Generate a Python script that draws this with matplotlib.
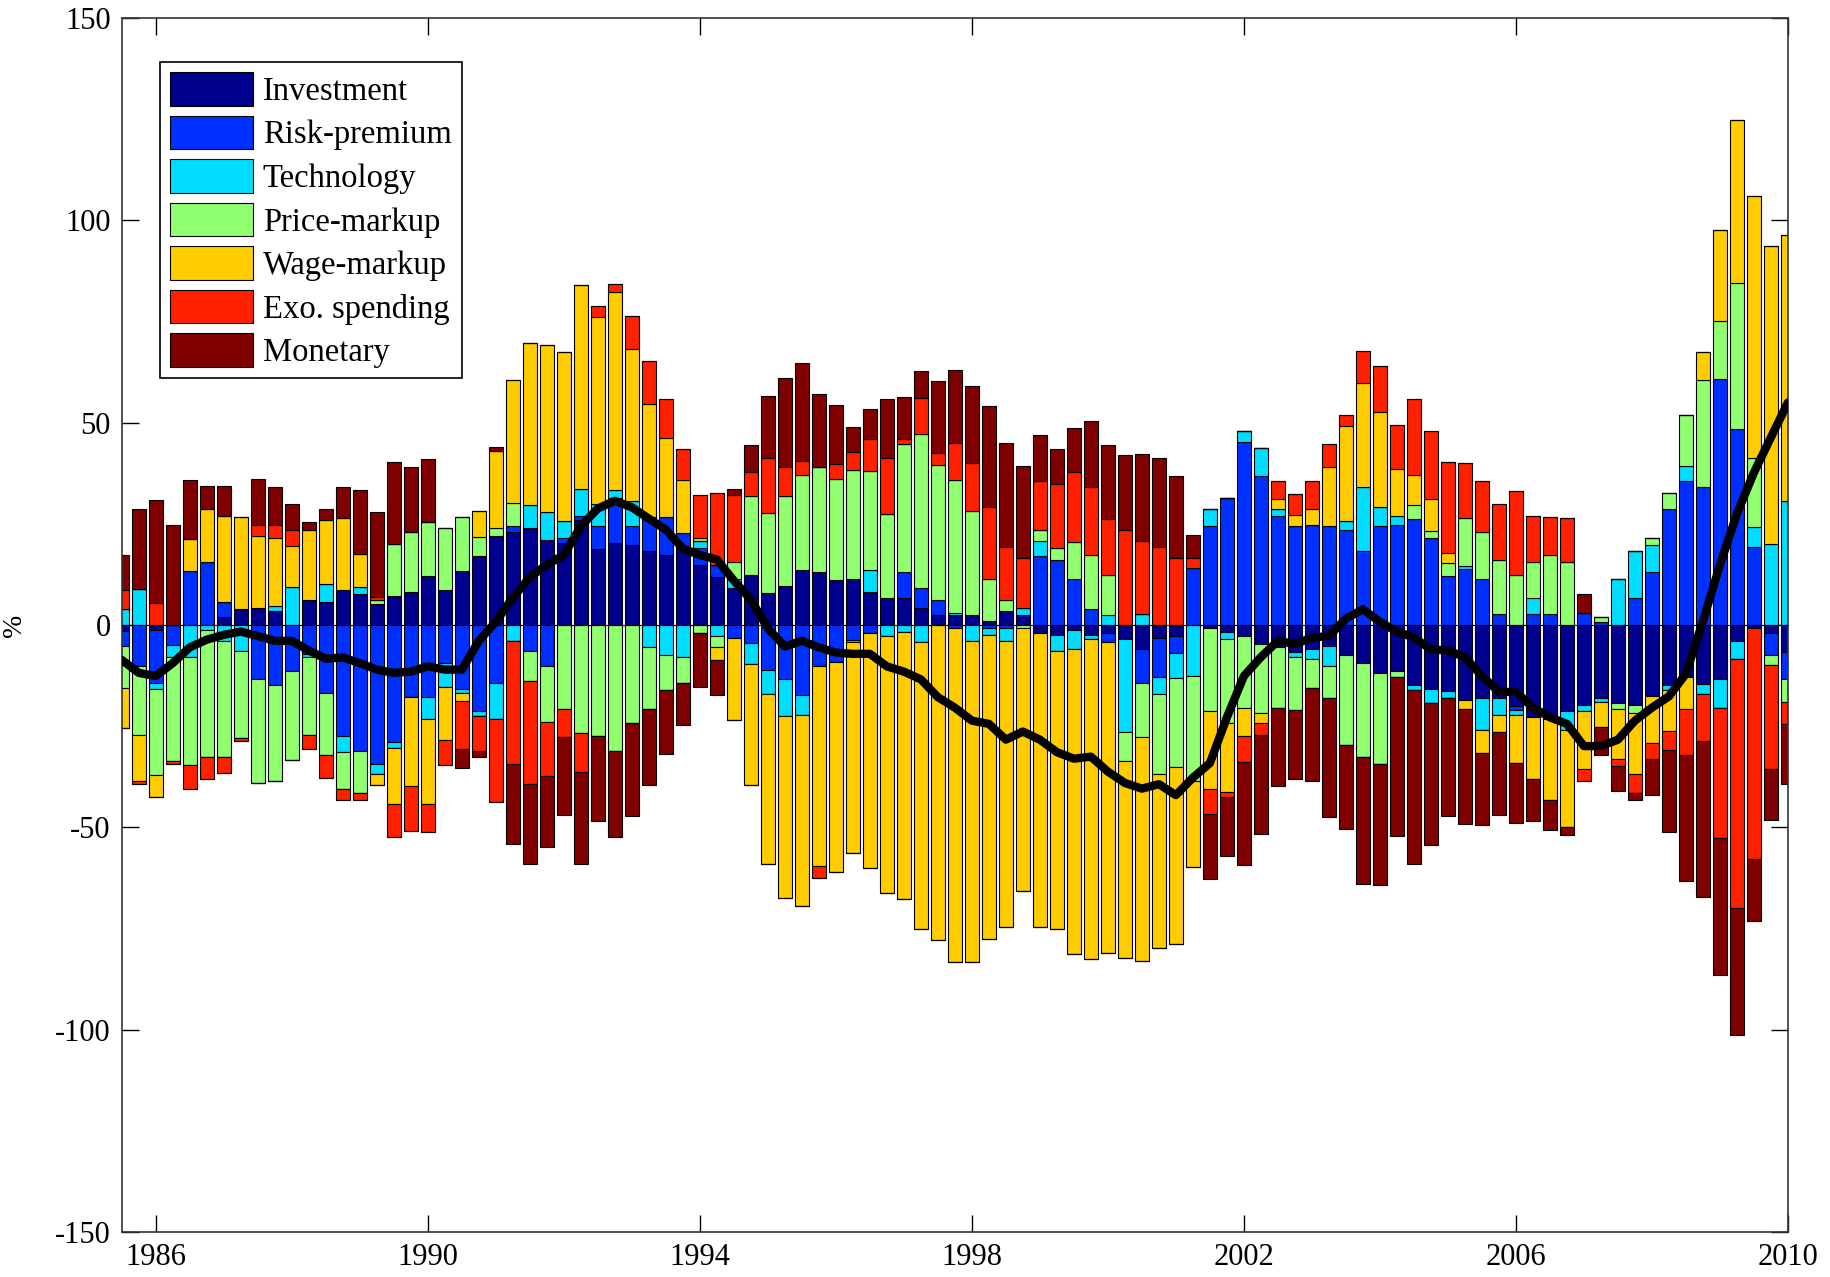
import numpy as np
import matplotlib
matplotlib.use("Agg")
import matplotlib.pyplot as plt

# Quarterly dates, 1985Q3 .. 2010Q1
dates = np.arange(1985.5, 2010.01, 0.25)

shock_names = ["Investment", "Risk-premium", "Technology", "Price-markup",
               "Wage-markup", "Exo. spending", "Monetary"]
shock_colors = ["#00008F", "#0030FF", "#00DDFF", "#90FF70",
                "#FFCC00", "#FF2000", "#800000"]

investment = [
    -1.5, 0, -1.1, 0, 0, 0, 1.9, 3.9, 4.2, 3.6, 0, 6.3, 5.8, 8.6, 7.7, 5.2,
    7.1, 8.2, 12.1, 8.6, 13.4, 17.0, 22.0, 23.1, 23.9, 20.9, 20.4, 25.9, 18.9, 20.4,
    19.7, 18.4, 17.3, 18.9, 14.9, 11.8, 9.1, 12.3, 7.9, 9.7, 13.5, 13.2, 11.2, 11.3,
    8.2, 6.6, 6.6, 4.2, 2.4, 2.4, 2.4, 1.1, 3.5, 2.4, -2.0, -2.4, -1.1, -2.4, -2.0,
    -3.5, -6.0, -3.1, -2.8, 0, -0.8, -1.6, -2.8, -4.7, -5.5, -6.6, -6.0, -5.2, -7.5,
    -9.4, -11.8, -11.3, -14.9, -15.7, -16.2, -18.6, -18.1, -18.1, -20.1, -22.8, -22.3,
    -21.2, -19.7, -18.1, -19.2, -19.7, -17.6, -14.9, -12.9, -14.5, -13.4, -3.9, -0.8,
    -2.0, -6.6,
]
risk_premium = [
    -3.6, -10.2, -13.1, -4.9, 13.4, 15.6, 3.9, 0, -13.4, -14.9, -11.3, -7.1, -16.8,
    -27.5, -31.1, -34.3, -28.8, -17.8, -17.8, -9.4, -15.7, -21.2, -14.2, 1.3, -6.3,
    -10.2, 1.1, 1.1, 5.5, 11.0, 4.7, 8.2, 9.3, 3.8, 4.2, 3.1, -3.1, -4.4, -11.0, -13.4,
    -17.3, -10.2, -9.1, -3.6, -2.0, 0, 6.6, 5.0, 3.9, -0.8, 0, -0.8, -0.8, 0, 17.0,
    16.0, 11.5, 3.9, -2.2, 0, -8.2, -9.7, -4.2, 14.2, 24.4, 31.4, 45.3, 36.9, 27.0,
    24.4, 24.8, 24.4, 23.6, 18.4, 24.4, 24.8, 26.3, 21.5, 12.1, 13.8, 11.5, 2.8, -0.8,
    2.7, 2.8, 0, 3.1, 0.8, 0, 6.6, 13.1, 28.6, 35.7, 34.1, 60.8, 48.4, 19.3, -5.3, -6.8,
]
technology = [
    3.9, 9.0, -1.6, -3.0, -7.9, -1.1, -3.9, -6.3, 0, 1.1, 9.4, -0.8, 4.4, -3.9, 1.6,
    -2.4, -1.6, 0, -5.5, -5.8, -1.1, -1.3, -9.1, -3.9, 5.7, 7.1, 4.1, 6.6, 5.5, 1.9,
    6.3, -5.5, -7.5, -7.9, 1.6, -2.8, 2.2, -5.3, -6.0, -9.1, -5.0, 0, 0, -0.6, 5.5,
    -2.8, -1.7, -4.2, 0, 0.5, -3.9, -1.6, -3.1, 1.9, 3.8, -3.9, -4.7, -1.1, 2.4, -23.0,
    2.7, -4.1, -6.0, -12.6, 4.2, -1.9, 2.7, 6.8, 1.7, -1.3, -2.4, -5.0, 2.0, 15.7, 4.7,
    2.2, -1.1, -3.5, -1.9, 0.8, -7.9, -4.2, -1.4, 3.9, -0.9, -4.7, -1.6, -0.8, 11.5,
    11.8, 6.6, -1.1, 3.6, -2.4, -7.1, -4.4, 5.0, 20.0, 30.7,
]
price_markup = [
    -10.5, -17.0, -21.2, -25.6, -26.7, -31.6, -28.8, -21.7, -25.6, -23.6, -22.0, -19.3,
    -15.4, -9.1, -10.5, 0.9, 12.9, 14.9, 13.4, 15.3, 13.4, 4.7, 1.9, 5.8, -7.5, -13.8,
    -20.8, -26.7, -27.5, -31.0, -24.1, -15.3, -8.6, -6.3, -1.9, -2.7, 4.4, 19.5, 19.7,
    22.2, 23.6, 25.8, 25.0, 27.0, 24.4, 20.9, 31.6, 37.9, 33.3, 32.9, 25.9, 10.4, 2.8,
    -0.8, 2.8, 3.1, 9.0, 13.4, 9.9, -7.1, -13.4, -20.0, -22.0, -25.9, -20.4, -20.6,
    -17.6, -17.0, -14.9, -13.1, -7.1, -7.9, -22.0, -23.3, -22.5, -1.6, 3.3, 1.7, 3.3,
    11.9, 11.6, 13.4, 12.3, 9.0, 14.5, 15.7, 0, 1.1, -1.6, -1.9, 1.9, 4.1, 12.6, 26.4,
    14.3, 36.0, 17.0, -2.5, -5.5,
]
wage_markup = [
    -9.7, -11.3, -5.5, 0, 7.9, 13.2, 21.1, 22.8, 17.9, 16.8, 10.2, 17.3, 15.7, 17.9,
    8.2, -2.7, -13.7, -21.9, -20.8, -13.1, -2.0, 6.6, 19.0, 30.3, 40.1, 41.2, 41.8, 50.5,
    46.2, 48.9, 37.6, 28.1, 19.7, 13.1, 0.8, -3.1, -20.4, -29.9, -42.0, -44.8, -47.0,
    -49.2, -51.9, -52.0, -58.0, -63.5, -65.9, -70.8, -77.8, -82.5, -79.4, -75.2, -70.8,
    -64.9, -72.6, -68.7, -75.5, -79.1, -76.7, -48.6, -55.3, -42.8, -43.7, -21.2, -19.3,
    -17.1, -7.1, -2.4, 2.4, 2.7, 3.8, 14.6, 23.7, 25.6, 23.6, 11.5, 7.4, 7.9, 2.4, -2.2,
    -5.5, -4.1, -11.8, -15.3, -20.0, -24.1, -14.2, -6.3, -12.3, -15.1, -11.5, -10.2, -7.9,
    6.9, 22.6, 40.3, 64.6, 73.6, 65.7,
]
exo_spending = [
    4.7, -0.8, 5.5, -0.8, -5.8, -5.3, -3.8, -0.6, 2.7, 3.3, 3.9, -3.5, -5.5, -2.7, -1.6,
    0.9, -8.3, -11.2, -7.1, -6.3, -11.8, -8.6, -20.4, -30.3, -25.5, -13.4, -6.8, -9.7,
    2.8, 2.0, 8.0, 10.5, 9.6, 7.7, 10.7, 17.8, 16.5, 6.0, 13.7, 7.1, 3.5, -3.1, 3.5,
    4.4, 7.9, 13.7, 1.1, 9.0, 2.8, 9.1, 11.8, 17.6, 13.1, 12.3, 12.1, 15.7, 17.3, 16.8,
    14.0, 23.6, 18.1, 19.3, 16.5, 2.4, -6.1, -1.3, -6.3, -3.0, 4.6, 5.2, 7.1, 5.7, 2.7,
    7.9, 11.3, 11.0, 18.9, 16.8, 22.6, 13.5, 12.4, 13.7, 20.8, 11.3, 9.3, 10.8, -3.1, 0,
    -1.6, -4.7, -3.9, -4.7, -11.2, -11.8, -32.2, -61.6, -56.9, -25.8, -5.5,
]
monetary = [
    8.6, 19.7, 25.3, 24.8, 14.5, 5.5, 7.4, 0, 11.3, 9.4, 6.3, 1.9, 2.8, 7.7, 15.9, 20.9,
    20.4, 16.0, 15.6, 0, -4.7, -1.4, 1.1, -20.0, -19.7, -17.3, -19.3, -22.5, -20.8,
    -21.4, -23.1, -18.6, -15.7, -10.5, -13.5, -8.6, 1.3, 6.6, 15.3, 22.0, 24.2, 18.1,
    14.6, 6.3, 7.4, 14.6, 10.5, 6.6, 17.8, 18.2, 18.9, 25.0, 25.6, 22.6, 11.2, 8.8, 11.0,
    16.2, 18.1, 18.4, 21.4, 21.9, 20.3, 5.7, -16.2, -14.5, -25.5, -24.4, -19.3, -17.1,
    -23.1, -29.4, -20.8, -31.3, -29.9, -39.3, -42.9, -35.1, -29.1, -28.3, -17.8, -20.4,
    -14.9, -10.4, -7.4, -1.9, 4.7, -6.8, -6.3, -1.9, -9.0, -20.1, -31.3, -38.5, -33.8,
    -31.4, -15.4, -12.6, -14.9,
]
# observed series (black line)
observed = [
    -8.6, -11.8, -12.6, -9.4, -5.5, -3.6, -2.4, -1.6, -2.7, -3.9, -3.9, -6.3, -8.3, -8.0,
    -9.4, -11.0, -11.8, -11.5, -10.2, -11.0, -11.0, -3.9, 0.8, 6.8, 11.8, 14.9, 17.3,
    24.4, 28.8, 30.7, 29.1, 26.3, 23.6, 18.9, 17.3, 16.2, 11.0, 6.3, -0.8, -5.3, -3.9,
    -5.5, -6.8, -7.1, -7.1, -10.2, -11.5, -13.4, -17.8, -20.4, -23.6, -24.4, -28.3,
    -26.3, -28.3, -31.4, -33.0, -32.5, -36.2, -39.0, -40.4, -39.3, -42.0, -37.7, -34.1,
    -22.8, -12.6, -7.9, -3.9, -4.7, -3.1, -2.7, 1.6, 3.9, 0.8, -1.6, -3.1, -6.0, -6.3,
    -7.9, -12.6, -16.5, -16.5, -20.4, -22.8, -24.4, -29.9, -29.9, -28.3, -23.6, -20.4,
    -17.6, -12.0, 1.0, 14.9, 27.5, 37.7, 46.4, 55.0,
]

x_ticks = [1986, 1990, 1994, 1998, 2002, 2006, 2010]
y_ticks = [-150, -100, -50, 0, 50, 100, 150]

plt.rcParams["font.family"] = ["Liberation Serif", "DejaVu Serif"]
plt.rcParams["font.size"] = 22
plt.rcParams["axes.unicode_minus"] = False

fig = plt.figure(figsize=(18.31, 12.77), dpi=100)
ax = fig.add_axes([0.0665, 0.035, 0.91, 0.951])

series = [investment, risk_premium, technology, price_markup,
          wage_markup, exo_spending, monetary]
pos_base = np.zeros(len(dates))
neg_base = np.zeros(len(dates))
handles = []
for name, vals, col in zip(shock_names, series, shock_colors):
    v = np.asarray(vals, dtype=float)
    pos = np.where(v > 0, v, 0.0)
    neg = np.where(v < 0, v, 0.0)
    h = ax.bar(dates, pos, width=0.2, bottom=pos_base, color=col,
               edgecolor="black", linewidth=0.8, label=name, zorder=2)
    ax.bar(dates, neg, width=0.2, bottom=neg_base, color=col,
           edgecolor="black", linewidth=0.8, zorder=2)
    pos_base += pos
    neg_base += neg
    handles.append(h)

ax.axhline(0, color="black", linewidth=0.8, zorder=3)
ax.plot(dates, observed, color="black", linewidth=6, zorder=4,
        solid_capstyle="round", solid_joinstyle="round")

ax.set_xlim(1985.5, 2010)
ax.set_ylim(-150, 150)
ax.set_xticks(x_ticks)
ax.set_yticks(y_ticks)
ax.tick_params(direction="in", length=12, width=1, top=True, right=True,
               labelsize=22, pad=8)
for s in ax.spines.values():
    s.set_linewidth(1.2)
    s.set_color("#333333")
ax.set_ylabel("%", fontsize=20)
ax.yaxis.set_label_coords(-0.057, 0.5)

leg = ax.legend(handles=handles, loc="upper left", bbox_to_anchor=(0.023, 0.9634),
                borderaxespad=0, fancybox=False, framealpha=1, edgecolor="black",
                fontsize=23.5, handlelength=2.55, handleheight=1.2, labelspacing=0.27,
                handletextpad=0.3, borderpad=0.3)
leg.get_frame().set_linewidth(1.2)

fig.savefig("out.png", dpi=100)
